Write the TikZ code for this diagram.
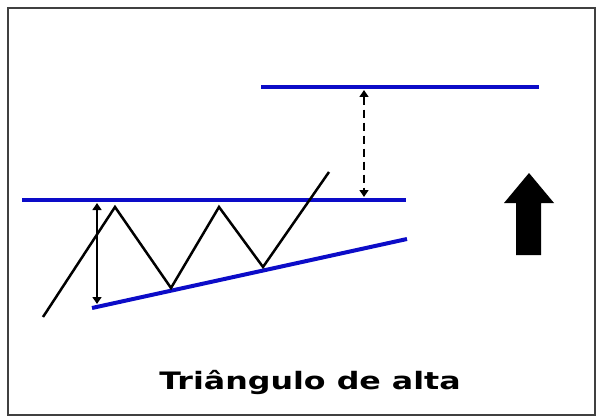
\documentclass[tikz,border=0pt]{standalone}
\usepackage{fontspec}
\newfontfamily\captionfont{DejaVu Sans}
\usetikzlibrary{arrows.meta}
\definecolor{trendblue}{RGB}{12,12,200}
\tikzset{
  trend/.style={trendblue,line width=4pt},
  price/.style={black,line width=2.5pt,line join=miter},
  gap/.style={{Triangle[length=7pt,width=9pt]}-{Triangle[length=7pt,width=9pt]},line width=1.4pt},
}
\begin{document}
\begin{tikzpicture}[x=1pt,y=-1pt]
  \useasboundingbox (0,0) rectangle (597,417);
  \draw[black!75,line width=2pt] (8,8) rectangle (595,415);
  % resistance, support and target lines
  \coordinate (R1) at (22,200);
  \coordinate (R2) at (406,200);
  \coordinate (S1) at (92,308);
  \coordinate (S2) at (407,239);
  \coordinate (T1) at (261,87);
  \coordinate (T2) at (539,87);
  \draw[trend] (R1) -- (R2);
  \draw[trend] (S1) -- (S2);
  \draw[trend] (T1) -- (T2);
  % price path
  \coordinate (P0) at (43,317);
  \coordinate (P1) at (115,207);
  \coordinate (P2) at (171,288);
  \coordinate (P3) at (219,207);
  \coordinate (P4) at (263,267);
  \coordinate (P5) at (329,172);
  \draw[price] (P0) -- (P1) -- (P2) -- (P3) -- (P4) -- (P5);
  % height of the pattern and projected move
  \coordinate (H1) at (97,203);
  \coordinate (H2) at (97,304);
  \coordinate (M1) at (364,90);
  \coordinate (M2) at (364,197);
  \draw[gap] (H1) -- (H2);
  \draw[gap,dash pattern=on 8pt off 5pt] (M1) -- (M2);
  % breakout direction
  \fill[black] (516,255) -- (516,203) -- (504,203) -- (529,173)
    -- (554,203) -- (541,203) -- (541,255) -- cycle;
  \node[anchor=base] (title) at (310,389)
    {\scalebox{1.32}[1]{\fontsize{24}{29}\selectfont\captionfont\bfseries Triângulo de alta}};
\end{tikzpicture}
\end{document}
